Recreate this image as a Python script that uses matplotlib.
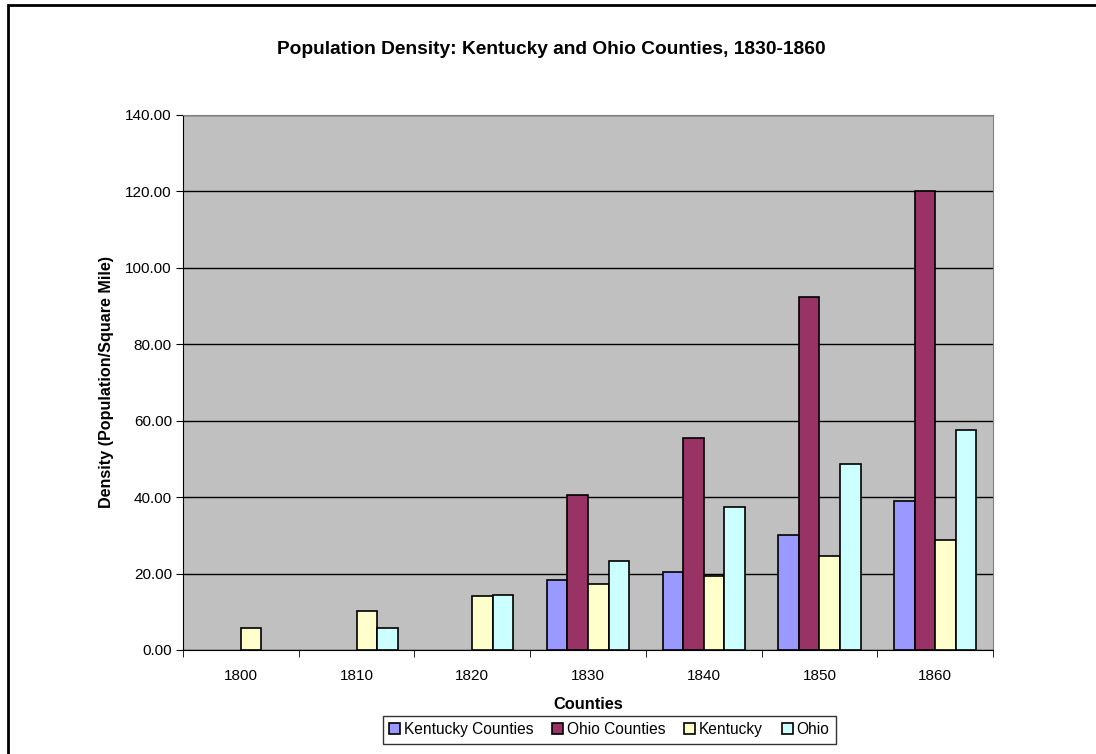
import numpy as np
import matplotlib.pyplot as plt
from matplotlib.patches import Rectangle

plt.rcParams['font.family'] = ['Liberation Sans', 'DejaVu Sans']

# Data
years = ['1800', '1810', '1820', '1830', '1840', '1850', '1860']
series_names = ['Kentucky Counties', 'Ohio Counties', 'Kentucky', 'Ohio']
kentucky_counties = [np.nan, np.nan, np.nan, 18.4, 20.4, 30.0, 39.0]
ohio_counties = [np.nan, np.nan, np.nan, 40.6, 55.4, 92.4, 120.1]
kentucky = [5.7, 10.2, 14.1, 17.2, 19.3, 24.5, 28.8]
ohio = [np.nan, 5.8, 14.4, 23.2, 37.4, 48.6, 57.5]
colors = ['#9999FF', '#993366', '#FFFFCC', '#CCFFFF']

fig = plt.figure(figsize=(10.96, 7.54), dpi=100)
ax = fig.add_axes([0.167, 0.138, 0.739, 0.7095])
ax.set_facecolor('#C0C0C0')

# outer chart border (only top/left visible in the crop)
fig.patches.append(Rectangle((0.007, -0.1), 1.2, 1.093, transform=fig.transFigure,
                             fill=False, edgecolor='black', linewidth=2))

x = np.arange(len(years))
w = 0.178
all_series = [kentucky_counties, ohio_counties, kentucky, ohio]
for i, (vals, name, c) in enumerate(zip(all_series, series_names, colors)):
    ax.bar(x + (i - 1.5) * w, vals, width=w, color=c, edgecolor='black',
           linewidth=1.2, label=name, zorder=3)

ax.set_xlim(-0.5, len(years) - 0.5)
ax.set_ylim(0, 140)
ax.set_yticks(np.arange(0, 141, 20))
ax.set_yticklabels([f'{v:.2f}' for v in np.arange(0, 141, 20)], fontsize=11)
ax.set_xticks(x)
ax.set_xticklabels(years, fontsize=11)
ax.set_xticks(np.arange(-0.5, len(years)), minor=True)
ax.tick_params(axis='x', which='major', length=0, pad=14)
ax.tick_params(axis='x', which='minor', length=5, direction='out')
ax.tick_params(axis='y', length=5, direction='out', pad=3)
ax.yaxis.grid(True, color='black', linewidth=1, zorder=1)
ax.set_axisbelow(True)

for side in ['top', 'right']:
    ax.spines[side].set_color('#808080')
for side in ['left', 'bottom']:
    ax.spines[side].set_color('black')

ax.set_xlabel('Counties', fontsize=11.8, fontweight='bold', labelpad=10)
ax.set_ylabel('Density (Population/Square Mile)', fontsize=11.6, fontweight='bold', labelpad=8)
fig.text(0.503, 0.934, 'Population Density: Kentucky and Ohio Counties, 1830-1860',
         ha='center', va='center', fontsize=13.8, fontweight='bold')

leg = fig.legend(loc='center', bbox_to_anchor=(0.556, 0.032), ncol=4, fontsize=11.2,
                 frameon=True, fancybox=False, edgecolor='black', handlelength=0.7,
                 handleheight=0.7, handletextpad=0.25, columnspacing=1.2,
                 borderpad=0.4, borderaxespad=0)
leg.get_frame().set_linewidth(1)

fig.savefig('out.png', dpi=100)
